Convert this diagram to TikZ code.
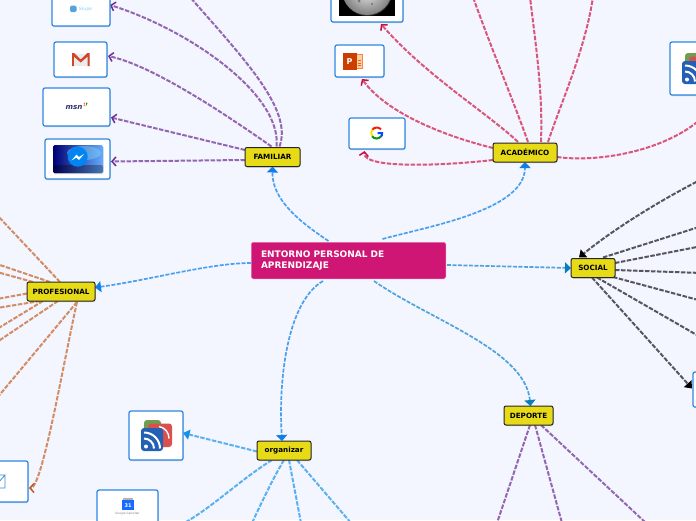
\documentclass[tikz,border=0pt]{standalone}
\usepackage{fontspec}
\setmainfont{DejaVu Sans}
\usetikzlibrary{arrows.meta,calc,shadows,backgrounds}
\definecolor{pagebg}{HTML}{F3F6FF}
\definecolor{rootpink}{HTML}{CF1675}
\definecolor{nodeyellow}{HTML}{E6DB16}
\definecolor{boxblue}{HTML}{2D86E6}
\definecolor{rootline}{HTML}{4A9FEF}
\definecolor{roottip}{HTML}{0F7FE8}
\definecolor{tealline}{HTML}{4FA3D8}
\definecolor{tealtip}{HTML}{0A7DB8}
\definecolor{purpleline}{HTML}{9566B0}
\definecolor{purpletip}{HTML}{6B2E91}
\definecolor{redline}{HTML}{D9567A}
\definecolor{redtip}{HTML}{C2143F}
\definecolor{orangeline}{HTML}{D28C66}
\definecolor{orangetip}{HTML}{C05A1E}
\definecolor{skyline}{HTML}{5AB0F0}
\definecolor{skytip}{HTML}{1A90E8}
\definecolor{greyline}{HTML}{55555F}
\definecolor{rssgreen}{HTML}{6F9E52}
\definecolor{rssred}{HTML}{D9504F}
\definecolor{rssblue}{HTML}{2460B4}
\newcommand{\rssicon}[1]{%
  \begin{scope}[shift={(#1)}]
    \fill[rssgreen,rounded corners=3] (-12,-15.5) rectangle (5,5);
    \fill[rssred,rounded corners=3] (-8,-12) rectangle (16,11.5);
    \draw[white,line width=1.4] (3,-9) to[bend left=40] (13,3);
    \fill[rssblue,rounded corners=3] (-15,-7.5) rectangle (7,15.5);
    \fill[white] (-10,11) circle (2);
    \draw[white,line width=2] (-12,3) to[bend left=45] (-2,13);
    \draw[white,line width=2] (-12,-3) to[bend left=45] (4,13);
  \end{scope}}
\tikzset{
  x=1pt,y=-1pt,
  shade/.style={drop shadow={shadow xshift=.5pt,shadow yshift=-1pt,opacity=.35}},
  rootnode/.style={rectangle,rounded corners=2,fill=rootpink,draw=white,line width=.5,text=white,font=\fontsize{9}{11}\selectfont\bfseries,text width=175pt,align=left,inner xsep=10pt,inner ysep=0pt,minimum height=37pt,outer sep=0pt},
  topic/.style={rectangle,rounded corners=2,fill=nodeyellow,draw=black!85,line width=1,font=\fontsize{7.2}{8}\selectfont\bfseries,text=black,inner sep=0pt,minimum height=19pt,outer sep=0pt,shade},
  imgbox/.style={rectangle,rounded corners=2,fill=white,draw=boxblue,line width=1.2,inner sep=0pt,outer sep=0pt,shade},
  baselink/.style={dash pattern=on 4.5pt off 1.5pt,line width=2},
  rootlink/.style 2 args={dash pattern=on 4pt off 1.5pt,line width=1.7,draw=#1,-{Triangle[length=6pt,width=11pt,color=#2]}},
  openlink/.style 2 args={baselink,draw=#1,-{Straight Barb[length=4pt,width=9pt,line width=1.5pt,color=#2]}},
  solidlink/.style 2 args={baselink,draw=#1,-{Triangle[length=6.5pt,width=10pt,color=#2]}},
  plainlink/.style={baselink,draw=#1},
}
\begin{document}
\begin{tikzpicture}
\useasboundingbox (0,0) rectangle (696,520);
\clip (0,0) rectangle (696,520);

% main nodes
\node[rootnode] (root) at (348.5,260.5) {ENTORNO PERSONAL DE\\APRENDIZAJE};
\node[topic,minimum width=55pt] (fam) at (272.5,157) {FAMILIAR};
\node[topic,minimum width=64pt] (acad) at (525,152.5) {ACADÉMICO};
\node[topic,minimum width=44pt] (soc) at (593,268) {SOCIAL};
\node[topic,minimum width=68pt] (prof) at (61,291.5) {PROFESIONAL};
\node[topic,minimum width=54pt] (org) at (284,450.5) {organizar};
\node[topic,minimum width=49pt] (dep) at (528.5,415.5) {DEPORTE};

% picture boxes
\node[imgbox,minimum width=58pt,minimum height=42pt] (skype) at (81,5) {};
\node[imgbox,minimum width=53pt,minimum height=35pt] (gmail) at (80.5,59.5) {};
\node[imgbox,minimum width=67pt,minimum height=38pt] (msn) at (76.5,107) {};
\node[imgbox,minimum width=65pt,minimum height=40pt] (mess) at (77.5,159) {};
\node[imgbox,minimum width=72pt,minimum height=50pt] (wiki) at (367,-3) {};
\node[imgbox,minimum width=49pt,minimum height=32pt] (ppt) at (359.5,61) {};
\node[imgbox,minimum width=56pt,minimum height=31pt] (goog) at (377,133.5) {};
\node[imgbox,minimum width=54pt,minimum height=53pt] (rssa) at (697,68.5) {};
\node[imgbox,minimum width=60pt,minimum height=35pt] (socbox) at (723,389.5) {};
\node[imgbox,minimum width=60pt,minimum height=41pt] (mail) at (-2,481.5) {};
\node[imgbox,minimum width=54pt,minimum height=49pt] (rssb) at (156,435.5) {};
\node[imgbox,minimum width=61pt,minimum height=80pt] (cal) at (127.5,530) {};

% free ends outside the picture
\coordinate (famtop) at (190,-3);
\coordinate (actopa) at (473,-3);
\coordinate (actopb) at (530,-3);
\coordinate (actopc) at (593,-3);
\coordinate (soca) at (702,179);
\coordinate (socb) at (702,226);
\coordinate (socc) at (702,246);
\coordinate (socd) at (702,273);
\coordinate (soce) at (702,301);
\coordinate (socf) at (702,338);
\coordinate (profa) at (-3,215);
\coordinate (profb) at (-3,264);
\coordinate (profc) at (-3,272);
\coordinate (profd) at (-3,299);
\coordinate (profe) at (-3,308);
\coordinate (proff) at (-3,329);
\coordinate (profg) at (-3,342);
\coordinate (profh) at (-3,398);
\coordinate (orga) at (186,522);
\coordinate (orgb) at (252,523);
\coordinate (orgc) at (301,523);
\coordinate (orgd) at (351,523);
\coordinate (depa) at (497,523);
\coordinate (depb) at (562,523);
\coordinate (depc) at (646,523);

\begin{scope}[on background layer]
\fill[pagebg] (0,0) rectangle (696,520);

% root links
\draw[rootlink={rootline}{roottip}] ($(root.north)+(-20,-1)$) .. controls (300,222) and (272,200) .. (fam.south);
\draw[rootlink={rootline}{roottip}] ($(root.north)+(34,-3)$) .. controls (430,226) and (525,210) .. (acad.south);
\draw[rootlink={rootline}{roottip}] ($(root.west)+(0,2.5)$) .. controls (210,263) and (150,280) .. ($(prof.east)+(0,-4)$);
\draw[rootlink={tealline}{tealtip}] ($(root.east)+(1,4.5)$) -- (soc.west);
\draw[rootlink={rootline}{roottip}] ($(root.south)+(-25.5,2)$) .. controls (290,300) and (278,370) .. ($(org.north)+(-2,0)$);
\draw[rootlink={tealline}{tealtip}] ($(root.south)+(25.5,2)$) .. controls (430,320) and (525,350) .. ($(dep.north)+(2,0)$);

% familiar
\draw[openlink={purpleline}{purpletip}] ($(fam.west)+(0,3)$) -- ($(mess.east)+(1,2.5)$);
\draw[openlink={purpleline}{purpletip}] ($(fam.west)+(0,-7)$) -- ($(msn.east)+(1,10.5)$);
\draw[openlink={purpleline}{purpletip}] ($(fam.north)+(-1,-1)$) .. controls (215,107) and (150,65) .. ($(gmail.east)+(1,-3.5)$);
\draw[openlink={purpleline}{purpletip}] ($(fam.north)+(4,-1)$) .. controls (282,95) and (190,30) .. (skype.east);
\draw[plainlink=purpleline] ($(fam.north)+(7,-1)$) .. controls (293,110) and (245,60) .. (famtop);

% academico
\draw[openlink={redline}{redtip}] ($(acad.west)+(0,7.5)$) .. controls (450,165) and (362,170) .. ($(goog.south)+(-12.5,2)$);
\draw[openlink={redline}{redtip}] ($(acad.west)+(0,-4.5)$) .. controls (460,140) and (390,118) .. ($(ppt.south)+(2.5,2)$);
\draw[openlink={redline}{redtip}] ($(acad.north)+(-7,-1)$) .. controls (490,115) and (425,75) .. ($(wiki.south)+(14,2)$);
\draw[plainlink=redline] ($(acad.north)+(3,-1)$) .. controls (515,105) and (490,45) .. (actopa);
\draw[plainlink=redline] ($(acad.north)+(16,-1)$) .. controls (543,90) and (535,40) .. (actopb);
\draw[plainlink=redline] ($(acad.north)+(23,-1)$) .. controls (562,100) and (585,50) .. (actopc);
\draw[plainlink=redline] ($(acad.east)+(0,4.5)$) .. controls (600,163) and (670,150) .. ($(rssa.south)+(8,20)$);

% social
\draw[solidlink={greyline}{black}] (soca) .. controls (655,203) and (610,232) .. ($(soc.north)+(-14,-1)$);
\draw[plainlink=greyline] ($(soc.north)+(10,-1)$) -- (socb);
\draw[plainlink=greyline] ($(soc.east)+(0,-5)$) -- (socc);
\draw[plainlink=greyline] ($(soc.east)+(0,2)$) -- (socd);
\draw[plainlink=greyline] ($(soc.east)+(-2,9)$) -- (soce);
\draw[plainlink=greyline] ($(soc.south)+(4,0)$) -- (socf);
\draw[solidlink={greyline}{black}] ($(soc.south)+(-1,0)$) -- ($(socbox.west)+(-1,-1)$);

% profesional
\draw[plainlink=orangeline] ($(prof.north)+(-1,0)$) -- (profa);
\draw[plainlink=orangeline] ($(prof.north)+(-11,0)$) -- (profb);
\draw[plainlink=orangeline] ($(prof.north)+(-28,0)$) -- (profc);
\draw[plainlink=orangeline] ($(prof.west)+(0,2)$) -- (profd);
\draw[plainlink=orangeline] ($(prof.south)+(-21,0)$) -- (profe);
\draw[plainlink=orangeline] ($(prof.south)+(-18,0)$) -- (proff);
\draw[plainlink=orangeline] ($(prof.south)+(-3,0)$) -- (profg);
\draw[plainlink=orangeline] ($(prof.south)+(16,1)$) -- (profh);
\draw[openlink={orangeline}{orangetip}] ($(prof.south)+(16,1)$) .. controls (62,370) and (42,488) .. ($(mail.east)+(1,6.5)$);

% organizar
\draw[solidlink={skyline}{skytip}] ($(org.west)+(0,1)$) -- ($(rssb.east)+(0,-2.5)$);
\draw[plainlink=skyline] ($(org.south)+(-12,0)$) .. controls (240,480) and (215,505) .. (orga);
\draw[plainlink=skyline] ($(org.south)+(0,0)$) .. controls (275,475) and (265,495) .. (orgb);
\draw[plainlink=skyline] ($(org.south)+(5,0)$) -- (orgc);
\draw[plainlink=skyline] ($(org.south)+(13,0)$) -- (orgd);

% deporte
\draw[plainlink=purpleline] ($(dep.south)+(1.5,0)$) -- (depa);
\draw[plainlink=purpleline] ($(dep.south)+(6.5,0)$) -- (depb);
\draw[plainlink=purpleline] ($(dep.south)+(12.5,0)$) -- (depc);
\end{scope}

% --- icons ---
% skype
\fill[cyan!70!blue!70!white,rounded corners=1.5] (70,5.5) rectangle (76.5,12);
\node[inner sep=0pt,text=cyan!50!white,font=\fontsize{4.4}{5}\selectfont] (skypetxt) at (85.5,9) {Skype};
% gmail
\fill[black!8] (72,54) rectangle (89.5,66);
\fill[red!65!orange!80!black!85!white] (72,53) -- (74,53) -- (80.7,59.5) -- (87.5,53) -- (89.5,53) -- (89.5,66) -- (87.7,66) -- (87.7,56.5) -- (80.7,62.5) -- (73.8,56.5) -- (73.8,66) -- (72,66) -- cycle;
% msn
\node[inner sep=0pt,text=blue!30!black!80,font=\fontsize{7.2}{8}\selectfont\bfseries\itshape] (msntxt) at (74,107.5) {msn};
\fill[orange] (84,104) -- (85.5,106) -- (83.5,106) -- cycle;
\fill[green!60!black] (86,102.5) -- (87.5,103) -- (86,106) -- cycle;
\fill[red!70] (85,102.5) -- (84.5,104.5) -- (83.5,103) -- cycle;
% messenger
\shade[left color=blue!45!black,right color=cyan!45!blue!60,rounded corners=1.5] (53,145) rectangle (103,173);
\fill[cyan!50!white,opacity=.45] (84,153) ellipse (17 and 7);
\fill[black,opacity=.3,rounded corners=1.5] (53,165) rectangle (103,173);
\fill[blue!45!cyan!95!black] (77.7,156.7) circle (10);
\fill[white] (71.5,160.5) -- (76.5,154.5) -- (79,157) -- (84,154) -- (79,160) -- (76.5,157.5) -- cycle;
% wikipedia
\begin{scope}
\clip (339,-20) rectangle (395,16);
\fill[black] (339,-20) rectangle (395,16);
\shade[inner color=black!8,outer color=black!50] (367,-10) circle (25);
\fill[black!55] (359,1) circle (1.5) (365,-3) circle (1) (372,4) circle (1.2);
\end{scope}
% powerpoint
\fill[orange!35,draw=orange!60!red!70,line width=.5] (351,54) rectangle (362,68);
\fill[orange!60!red!80!black] (343,53) rectangle (357,70);
\node[inner sep=0pt,text=white,font=\fontsize{8}{9}\selectfont\bfseries] (ppttxt) at (349.5,61.5) {P};
\draw[orange!70!red,line width=.7] (358,60) -- (361,60) (358,63) -- (361,63) (358,65.5) -- (361,65.5);
% google
\begin{scope}[line width=2]
\draw[red!80!orange] (372.3,129.7) to[bend left=50] (381,129.3);
\draw[yellow!85!orange] (372.1,129.7) to[bend right=25] (372.1,136.3);
\draw[green!60!black] (372.1,136.3) to[bend right=50] (380.7,136.8);
\draw[blue!70!cyan] (380.7,136.8) to[bend right=35] (382,133) -- (377.5,133);
\end{scope}
% rss
\rssicon{156,435.5}
\rssicon{697,68.5}
% calendar
\fill[black!30] (123,498) rectangle (133,501);
\fill[blue!65!cyan!90] (122,500) rectangle (134,510);
\node[inner sep=0pt,text=white,font=\fontsize{5}{6}\selectfont\bfseries] (caltxt) at (128,505.5) {31};
\node[inner sep=0pt,text=black!50,font=\fontsize{2.9}{3}\selectfont] (calname) at (127.5,513.5) {Google Calendar};
% mail
\draw[cyan!60!blue!80,line width=.8] (-9,475) rectangle (5,488) (5,475) -- (-2,483);
\end{tikzpicture}
\end{document}
